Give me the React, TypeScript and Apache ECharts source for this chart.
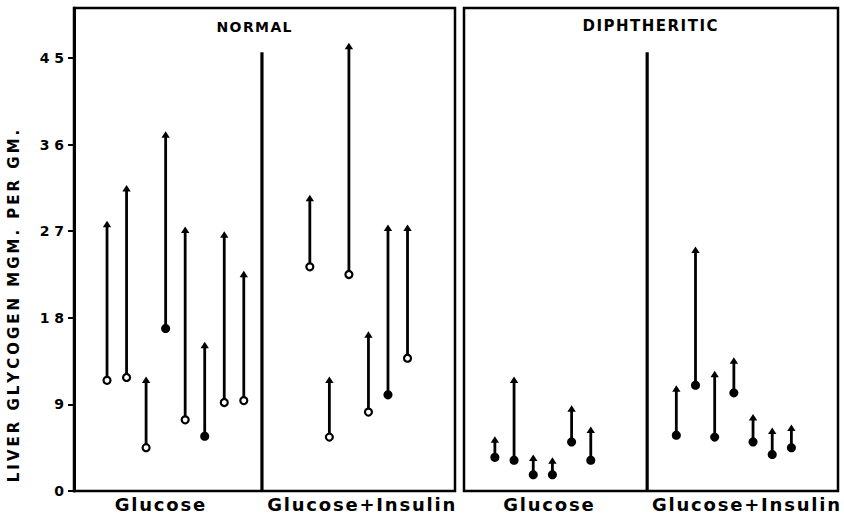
import React, { useEffect, useRef } from "react";
import * as echarts from "echarts";

// ---- data (liver glycogen, mgm per gm: before -> after) ----
const panelTitles = ["NORMAL", "DIPHTHERITIC"];
const groupLabels = ["Glucose", "Glucose+Insulin"];
const yTicks = [0, 9, 18, 27, 36, 45];
const yAxisTitle = "LIVER GLYCOGEN MGM. PER GM.";

const normalGlucoseBefore = [11.5, 11.8, 4.5, 16.9, 7.4, 5.7, 9.2, 9.4];
const normalGlucoseAfter = [28.1, 31.8, 11.9, 37.4, 27.5, 15.5, 27.0, 22.9];
const normalGlucoseFilled = [0, 0, 0, 1, 0, 1, 0, 0];

const normalInsulinBefore = [23.3, 5.6, 22.5, 8.2, 10.0, 13.8];
const normalInsulinAfter = [30.8, 11.9, 46.6, 16.6, 27.7, 27.7];
const normalInsulinFilled = [0, 0, 0, 0, 1, 0];

const diphGlucoseBefore = [3.5, 3.2, 1.7, 1.7, 5.1, 3.2];
const diphGlucoseAfter = [5.7, 11.9, 3.8, 3.5, 8.9, 6.7];
const diphGlucoseFilled = [1, 1, 1, 1, 1, 1];

const diphInsulinBefore = [5.8, 11.0, 5.6, 10.2, 5.1, 3.8, 4.5];
const diphInsulinAfter = [11.0, 25.4, 12.5, 13.9, 8.0, 6.6, 6.9];
const diphInsulinFilled = [1, 1, 1, 1, 1, 1, 1];

// ---- layout constants (axis units) ----
const X_MAX = 19.5;
const Y_MAX = 50.2;
const GROUP_START = [
  [1.69, 12.07],
  [1.61, 11.07],
];
const DIVIDER_X = [9.62, 9.55];
const DIVIDER_TOP = 45.6;
const LABEL_X = [4.4, 14.7];

const FONT = "DejaVu Sans";

const space = (s: string, sep: string) => s.split("").join(sep);

function buildArrows(start: number, before: number[], after: number[], filled: number[]) {
  return before.map((b, i) => [start + i, b, after[i], filled[i]]);
}

const renderArrow = (params: any, api: any) => {
  const x = api.value(0);
  const p0 = api.coord([x, api.value(1)]);
  const p1 = api.coord([x, api.value(2)]);
  const filled = api.value(3) === 1;
  return {
    type: "group",
    children: [
      {
        type: "line",
        shape: { x1: p0[0], y1: p0[1], x2: p1[0], y2: p1[1] + 4 },
        style: { stroke: "#000", lineWidth: 2.8 },
      },
      {
        type: "polygon",
        shape: {
          points: [
            [p1[0], p1[1]],
            [p1[0] - 4.2, p1[1] + 6.5],
            [p1[0] + 4.2, p1[1] + 6.5],
          ],
        },
        style: { fill: "#000" },
      },
      {
        type: "circle",
        shape: { cx: p0[0], cy: p0[1], r: 3.5 },
        style: { fill: filled ? "#000" : "#fff", stroke: "#000", lineWidth: 2.2 },
      },
    ],
  };
};

export default function App() {
  const ref = useRef<HTMLDivElement>(null);

  useEffect(() => {
    if (!ref.current) return;
    const chart = echarts.init(ref.current, null, { renderer: "svg" });

    const panels = [
      [
        buildArrows(GROUP_START[0][0], normalGlucoseBefore, normalGlucoseAfter, normalGlucoseFilled),
        buildArrows(GROUP_START[0][1], normalInsulinBefore, normalInsulinAfter, normalInsulinFilled),
      ],
      [
        buildArrows(GROUP_START[1][0], diphGlucoseBefore, diphGlucoseAfter, diphGlucoseFilled),
        buildArrows(GROUP_START[1][1], diphInsulinBefore, diphInsulinAfter, diphInsulinFilled),
      ],
    ];

    const series: any[] = [];
    panels.forEach((groups, pi) => {
      series.push({
        type: "line",
        xAxisIndex: pi,
        yAxisIndex: pi,
        data: [
          [DIVIDER_X[pi], 0],
          [DIVIDER_X[pi], DIVIDER_TOP],
        ],
        symbol: "none",
        lineStyle: { color: "#000", width: 3.2 },
        silent: true,
      });
      groups.forEach((g) => {
        series.push({
          type: "custom",
          xAxisIndex: pi,
          yAxisIndex: pi,
          data: g,
          encode: { x: 0, y: [1, 2] },
          renderItem: renderArrow,
          silent: true,
        });
      });
    });

    const xAxisBase = (i: number) => ({
      type: "value",
      gridIndex: i,
      min: 0,
      max: X_MAX,
      splitLine: { show: false },
      axisLine: { show: false },
      axisTick: { show: false },
      axisLabel: {
        customValues: LABEL_X,
        formatter: (v: number) => space(v < 9.5 ? groupLabels[0] : groupLabels[1], "\u200A"),
        color: "#000",
        fontFamily: FONT,
        fontWeight: "bold",
        fontSize: 18,
        margin: 4,
      },
    });

    chart.setOption({
      animation: false,
      backgroundColor: "#fff",
      grid: [
        { left: 74, right: 389, top: 8, bottom: 28, show: true, borderColor: "#000", borderWidth: 2.5, backgroundColor: "transparent" },
        { left: 464, right: 6, top: 8, bottom: 28, show: true, borderColor: "#000", borderWidth: 2.5, backgroundColor: "transparent" },
      ],
      xAxis: [xAxisBase(0), xAxisBase(1)],
      yAxis: [
        {
          type: "value",
          gridIndex: 0,
          min: 0,
          max: Y_MAX,
          interval: 9,
          splitLine: { show: false },
          axisLine: { show: true, lineStyle: { color: "#000", width: 3 } },
          axisTick: { show: true, customValues: yTicks, length: 6, lineStyle: { color: "#000", width: 2 } },
          axisLabel: {
            customValues: yTicks,
            formatter: (v: number) => space(String(v), " "),
            color: "#000",
            fontFamily: FONT,
            fontWeight: "bold",
            fontSize: 14,
            margin: 10,
          },
        },
        {
          type: "value",
          gridIndex: 1,
          min: 0,
          max: Y_MAX,
          interval: 9,
          show: false,
        },
      ],
      graphic: [
        {
          type: "text",
          x: 14,
          y: 306,
          rotation: Math.PI / 2,
          style: {
            text: space(yAxisTitle, "\u2009"),
            align: "center",
            verticalAlign: "middle",
            fill: "#000",
            font: `bold 15px "${FONT}"`,
          },
        },
        {
          type: "text",
          x: 254,
          y: 27,
          style: {
            text: space(panelTitles[0], "\u200A"),
            align: "center",
            verticalAlign: "middle",
            fill: "#000",
            font: `bold 14px "${FONT}"`,
          },
        },
        {
          type: "text",
          x: 650,
          y: 26,
          style: {
            text: space(panelTitles[1], "\u200A"),
            align: "center",
            verticalAlign: "middle",
            fill: "#000",
            font: `bold 15px "${FONT}"`,
          },
        },
      ],
      series,
    });

    return () => chart.dispose();
  }, []);

  return (
    <div
      ref={ref}
      style={{ position: "fixed", left: 0, top: 0, width: 844, height: 519, background: "#fff" }}
    />
  );
}
